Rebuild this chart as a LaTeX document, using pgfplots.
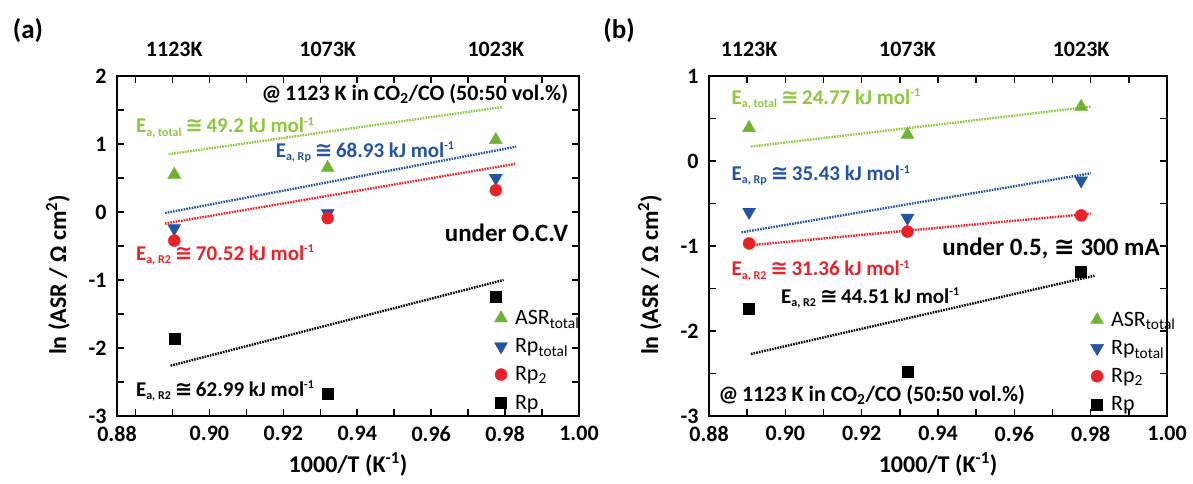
\documentclass[border=0pt]{standalone}
\usepackage{fontspec}
\setmainfont{Carlito}
\newfontfamily\symf{DejaVu Sans}
\usepackage{pgfplots}
\pgfplotsset{compat=1.18}

\definecolor{cgreen}{RGB}{112,178,52}
\definecolor{cgreenl}{RGB}{141,198,63}
\definecolor{cblue}{RGB}{34,84,164}
\definecolor{cred}{RGB}{232,34,40}

\newcommand{\fs}[1]{\fontsize{#1}{#1}\selectfont}
\newcommand{\ceq}{{\symf ≅}}
\newcommand{\Ea}[2]{E\textsubscript{\fs{12}#1}\,\ceq\,#2 kJ mol\textsuperscript{\fs{12}-1}}

\pgfplotsset{
  myax/.style={
    scale only axis, height=340pt, clip=false,
    axis line style={line width=1.8pt},
    every tick/.style={line width=1.5pt, black},
    major tick length=7pt, minor tick length=7pt,
    tick align=inside,
    ticklabel style={font=\bfseries\fs{22}},
    xticklabel style={yshift=-7pt},
    yticklabel style={xshift=-7pt},
    label style={font=\bfseries\fs{24}},
    xlabel={1000/T (K\textsuperscript{-1})},
    ylabel={ln (ASR / Ω cm\textsuperscript{2})},
    legend style={draw=none, fill=none, font=\fs{22}, row sep=8.5pt, cells={anchor=west}},
    legend cell align=left,
    legend image code/.code={\path[draw=none] (-8pt,0pt) -- (12pt,0pt); \draw[##1] plot[only marks] coordinates {(0pt,0pt)};},
  },
  fitline/.style={line width=2.4pt, dash pattern=on 1.6pt off 1.1pt, forget plot},
}

\begin{document}
\begin{tikzpicture}
\path[use as bounding box] (0,0) rectangle (1193pt,484pt);
\node[font=\bfseries\fs{27}] at (28pt,453pt) {(a)};
\node[font=\bfseries\fs{27}] at (619pt,453pt) {(b)};

% ---------------- panel (a)
\begin{axis}[myax,
  at={(117pt,68pt)}, anchor=south west, width=462pt,
  xmin=0.875, xmax=1.0, ymin=-3, ymax=2,
  xtick={0.875,0.90,0.92,0.94,0.96,0.98,1.00},
  xticklabels={0.88,0.90,0.92,0.94,0.96,0.98,1.00},
  minor xtick={0.88,0.89,0.91,0.93,0.95,0.97,0.99},
  ytick={-3,-2,-1,0,1,2}, yticklabels={-3,-2,-1,0,1,2},
  minor ytick={-2.5,-1.5,-0.5,0.5,1.5},
  xlabel style={at={(axis description cs:0.5,-0.141)}, anchor=center},
  ylabel style={at={(axis description cs:-0.128,0.415)}, anchor=center},
  legend style={at={(axis description cs:0.807,0.323)}, anchor=north west},
]
\addplot[cgreenl, fitline] coordinates {(0.889,0.85) (0.9794,1.545)};
\addplot[cblue, fitline] coordinates {(0.888,-0.015) (0.983,0.96)};
\addplot[cred, fitline] coordinates {(0.888,-0.17) (0.983,0.71)};
\addplot[black, fitline] coordinates {(0.8895,-2.26) (0.9796,-1.0)};

\addplot[only marks, mark=triangle*, mark size=7.5pt, color=cgreen] coordinates {(0.8905,0.55) (0.932,0.65) (0.9775,1.06)};
\addplot[only marks, mark=triangle*, mark size=7.5pt, mark options={rotate=180}, color=cblue] coordinates {(0.8905,-0.24) (0.932,-0.02) (0.9775,0.50)};
\addplot[only marks, mark=*, mark size=6pt, color=cred] coordinates {(0.8905,-0.42) (0.932,-0.09) (0.9775,0.32)};
\addplot[only marks, mark=square*, mark size=5.5pt, color=black] coordinates {(0.8905,-1.87) (0.932,-2.67) (0.9775,-1.24)};
\legend{ASR\textsubscript{total}, Rp\textsubscript{total}, Rp\textsubscript{2}, Rp}

\node[font=\bfseries\fs{22}] at (axis cs:0.8905,2) [yshift=27pt] {1123K};
\node[font=\bfseries\fs{22}] at (axis cs:0.932,2) [yshift=27pt] {1073K};
\node[font=\bfseries\fs{22}] at (axis cs:0.9775,2) [yshift=27pt] {1023K};

\node[anchor=east, font=\bfseries\fs{22}] at (axis cs:0.998,1.74) {@\,1123 K in CO\textsubscript{2}/CO (50:50 vol.\%)};
\node[anchor=west, font=\bfseries\fs{21}, text=cgreenl] at (axis cs:0.8792,1.24) {\Ea{a, total}{49.2}};
\node[anchor=west, font=\bfseries\fs{21}, text=cblue] at (axis cs:0.917,0.88) {\Ea{a, Rp}{68.93}};
\node[anchor=west, font=\bfseries\fs{21}, text=cred] at (axis cs:0.8792,-0.63) {\Ea{a, R2}{70.52}};
\node[anchor=west, font=\bfseries\fs{21}, text=black] at (axis cs:0.8792,-2.63) {\Ea{a, R2}{62.99}};
\node[anchor=east, font=\bfseries\fs{25}] at (axis cs:0.998,-0.31) {under O.C.V};
\end{axis}

% ---------------- panel (b)
\begin{axis}[myax,
  at={(709pt,68pt)}, anchor=south west, width=458pt,
  xmin=0.88, xmax=1.0, ymin=-3, ymax=1,
  xtick={0.88,0.90,0.92,0.94,0.96,0.98,1.00},
  xticklabels={0.88,0.90,0.92,0.94,0.96,0.98,1.00},
  minor xtick={0.89,0.91,0.93,0.95,0.97,0.99},
  ytick={-3,-2,-1,0,1}, yticklabels={-3,-2,-1,0,1},
  minor ytick={-2.5,-1.5,-0.5,0.5},
  xlabel style={at={(axis description cs:0.5,-0.141)}, anchor=center},
  ylabel style={at={(axis description cs:-0.129,0.415)}, anchor=center},
  legend style={at={(axis description cs:0.823,0.318)}, anchor=north west},
]
\addplot[cgreenl, fitline] coordinates {(0.891,0.17) (0.980,0.64)};
\addplot[cblue, fitline] coordinates {(0.8885,-0.84) (0.980,-0.145)};
\addplot[cred, fitline] coordinates {(0.891,-0.99) (0.980,-0.62)};
\addplot[black, fitline] coordinates {(0.891,-2.27) (0.981,-1.35)};

\addplot[only marks, mark=triangle*, mark size=7.5pt, color=cgreen] coordinates {(0.8905,0.39) (0.932,0.31) (0.9775,0.64)};
\addplot[only marks, mark=triangle*, mark size=7.5pt, mark options={rotate=180}, color=cblue] coordinates {(0.8905,-0.60) (0.932,-0.67) (0.9775,-0.23)};
\addplot[only marks, mark=*, mark size=6pt, color=cred] coordinates {(0.8905,-0.97) (0.932,-0.83) (0.9775,-0.64)};
\addplot[only marks, mark=square*, mark size=5.5pt, color=black] coordinates {(0.8905,-1.74) (0.932,-2.48) (0.9775,-1.30)};
\legend{ASR\textsubscript{total}, Rp\textsubscript{total}, Rp\textsubscript{2}, Rp}

\node[font=\bfseries\fs{22}] at (axis cs:0.8905,1) [yshift=27pt] {1123K};
\node[font=\bfseries\fs{22}] at (axis cs:0.932,1) [yshift=27pt] {1073K};
\node[font=\bfseries\fs{22}] at (axis cs:0.9775,1) [yshift=27pt] {1023K};

\node[anchor=west, font=\bfseries\fs{21}, text=cgreenl] at (axis cs:0.885,0.73) {\Ea{a, total}{24.77}};
\node[anchor=west, font=\bfseries\fs{21}, text=cblue] at (axis cs:0.885,-0.17) {\Ea{a, Rp}{35.43}};
\node[anchor=east, font=\bfseries\fs{25}] at (axis cs:0.999,-1.03) {under 0.5, \ceq\ 300 mA};
\node[anchor=west, font=\bfseries\fs{21}, text=cred] at (axis cs:0.885,-1.29) {\Ea{a, R2}{31.36}};
\node[anchor=west, font=\bfseries\fs{21}, text=black] at (axis cs:0.898,-1.61) {\Ea{a, R2}{44.51}};
\node[anchor=west, font=\bfseries\fs{22}] at (axis cs:0.8816,-2.75) {@\,1123 K in CO\textsubscript{2}/CO (50:50 vol.\%)};
\end{axis}
\end{tikzpicture}
\end{document}
